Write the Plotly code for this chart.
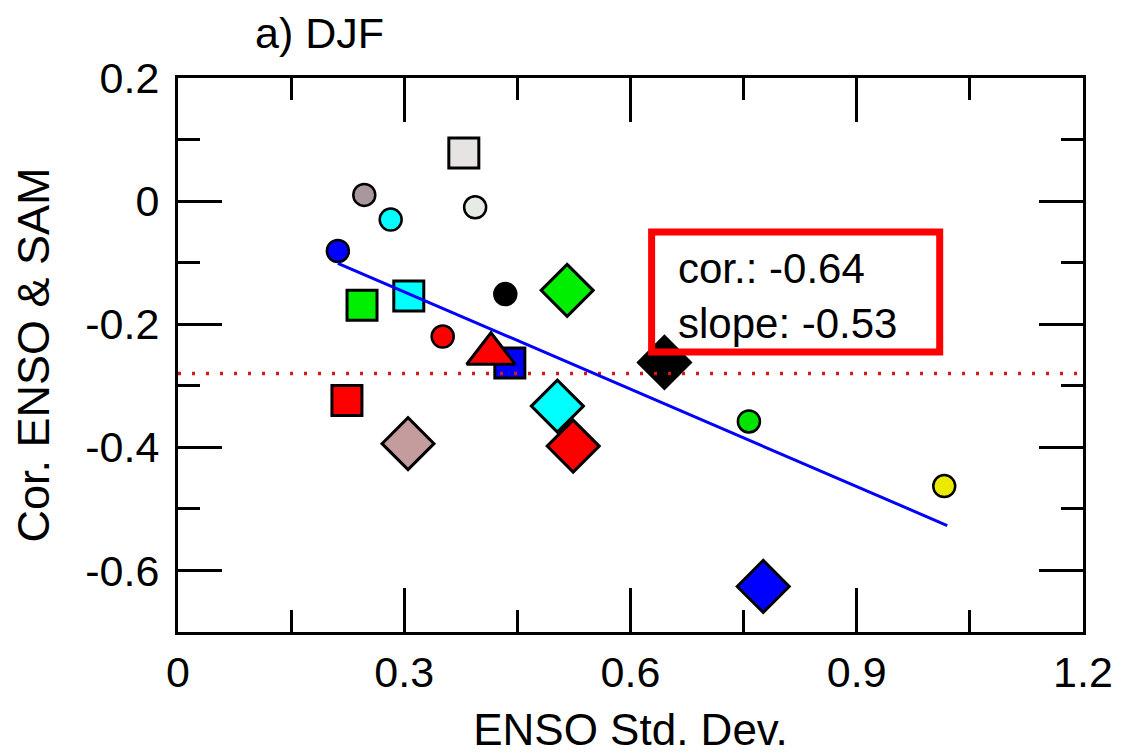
import plotly.graph_objects as go

# ---------------- data ----------------
circle_x = [0.212, 0.247, 0.282, 0.394, 0.434, 0.351, 0.757, 1.016]
circle_y = [-0.081, 0.010, -0.030, -0.010, -0.151, -0.220, -0.358, -0.463]
circle_colors = ["#0000ff", "#a8979b", "#00ffff", "#e4ece4", "#000000", "#ff0000", "#00e400", "#eaea00"]

square_x = [0.379, 0.306, 0.244, 0.224, 0.440]
square_y = [0.078, -0.154, -0.169, -0.324, -0.263]
square_colors = ["#e8e3e3", "#00ffff", "#00ee00", "#ff0000", "#0000ff"]

diamond_x = [0.516, 0.305, 0.645, 0.776, 0.503, 0.524]
diamond_y = [-0.145, -0.394, -0.262, -0.626, -0.333, -0.398]
diamond_colors = ["#00ee00", "#c49c9e", "#000000", "#0000ff", "#00ffff", "#ff0000"]

triangle_x = [0.415]
triangle_y = [-0.248]
triangle_colors = ["#ff0000"]

reg_x = [0.212, 1.020]
reg_y = [-0.101, -0.527]

ref_level = -0.28
ref_x = [0.0, 1.2]

stats_lines = ["cor.: -0.64", "slope: -0.53"]
title_text = "a) DJF"

x_tickvals = [0, 0.3, 0.6, 0.9, 1.2]
x_ticktext = ["0", "0.3", "0.6", "0.9", "1.2"]
y_tickvals = [0.2, 0.0, -0.2, -0.4, -0.6]
y_ticktext = ["0.2", "0", "-0.2", "-0.4", "-0.6"]

FONT = "Liberation Sans, Arial, Helvetica, sans-serif"
FS = 43

fig = go.Figure()

def add_markers(xs, ys, cols, symbol, size, lw):
    fig.add_trace(go.Scatter(
        x=xs, y=ys, mode="markers", showlegend=False,
        marker=dict(symbol=symbol, size=size, color=cols,
                    line=dict(color="black", width=lw))))

add_markers(circle_x, circle_y, circle_colors, "circle", 22, 2.5)
add_markers(square_x, square_y, square_colors, "square", 30, 3)
add_markers(diamond_x, diamond_y, diamond_colors, "diamond", 40, 3)
add_markers(triangle_x, triangle_y, triangle_colors, "triangle-up", 42, 3)

# reference dotted line
fig.add_trace(go.Scatter(
    x=ref_x, y=[ref_level] * len(ref_x), mode="lines", showlegend=False,
    line=dict(color="#d81818", width=3.5, dash="3px,11px")))

# regression line
fig.add_trace(go.Scatter(
    x=reg_x, y=reg_y, mode="lines", showlegend=False,
    line=dict(color="#0000ff", width=3)))

# stats box
fig.add_shape(type="rect", xref="x", yref="y",
              x0=0.628, x1=1.010, y0=-0.245, y1=-0.050,
              line=dict(color="#ff0000", width=7), fillcolor="rgba(0,0,0,0)")
fig.add_annotation(x=0.660, y=-0.154, xref="x", yref="y",
                   text="<br>".join(stats_lines),
                   showarrow=False, xanchor="left", yanchor="middle", align="left",
                   font=dict(family=FONT, size=42, color="black"))

# panel title
fig.add_annotation(x=(253 - 178) / 905, y=1.081, xref="paper", yref="paper",
                   text=title_text, showarrow=False, xanchor="left", yanchor="middle",
                   font=dict(family=FONT, size=FS, color="black"))

axis_common = dict(
    showline=True, linewidth=3, linecolor="black", mirror="allticks",
    ticks="inside", ticklen=44, tickwidth=3, tickcolor="black",
    showgrid=False, zeroline=False,
    tickfont=dict(family=FONT, size=FS, color="black"),
)

fig.update_xaxes(
    range=[0, 1.2], tickmode="array", tickvals=x_tickvals, ticktext=x_ticktext,
    minor=dict(ticks="inside", ticklen=22, tickwidth=3, tickcolor="black",
               dtick=0.15, tick0=0, showgrid=False),
    title=dict(text="ENSO Std. Dev.", font=dict(family=FONT, size=44, color="black"), standoff=20),
    **axis_common)
fig.update_yaxes(
    range=[-0.7, 0.2], tickmode="array", tickvals=y_tickvals, ticktext=y_ticktext,
    ticklabelstandoff=7,
    minor=dict(ticks="inside", ticklen=22, tickwidth=3, tickcolor="black",
               dtick=0.1, tick0=0, showgrid=False),
    title=dict(text="Cor. ENSO & SAM", font=dict(family=FONT, size=45, color="black"), standoff=22),
    **axis_common)

fig.update_layout(
    width=1124, height=754,
    margin=dict(l=178, r=41, t=78, b=122, autoexpand=False),
    paper_bgcolor="white", plot_bgcolor="white",
    font=dict(family=FONT, size=FS, color="black"),
)

fig.write_html("out.html")
